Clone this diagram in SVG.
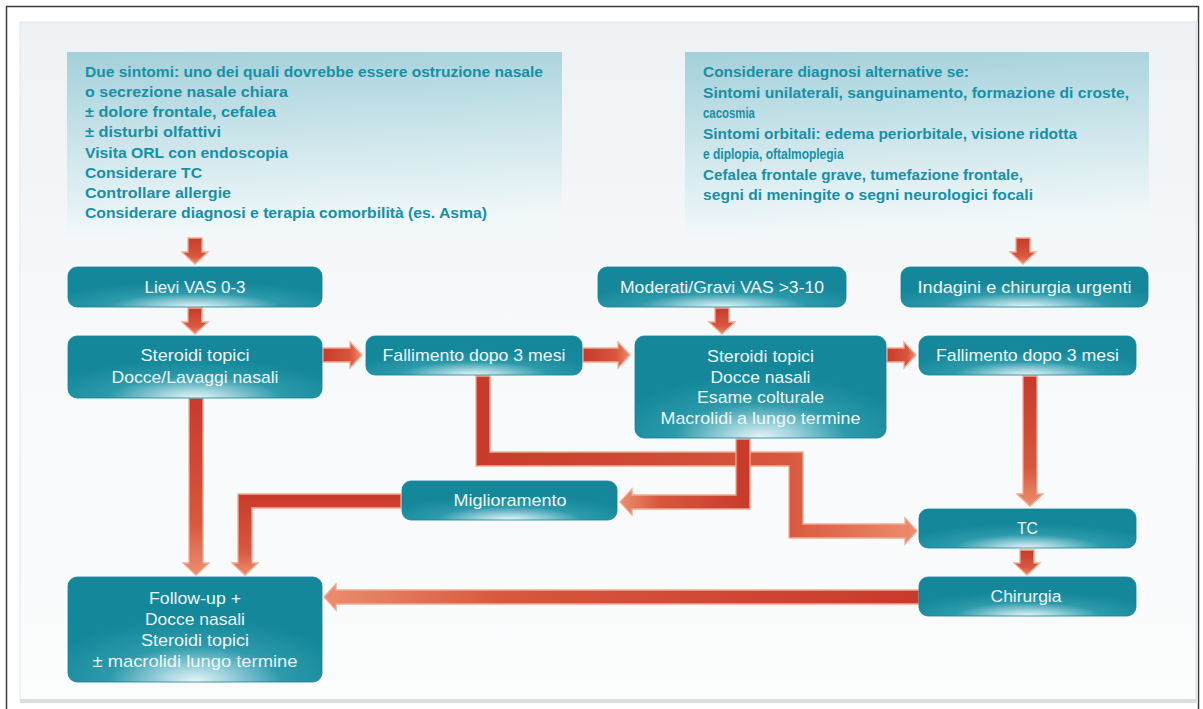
<svg xmlns="http://www.w3.org/2000/svg" width="1203" height="709" viewBox="0 0 1203 709">
<defs>
<linearGradient id="panelG" x1="0" y1="0" x2="0" y2="1">
<stop offset="0" stop-color="#eef2f5"/>
<stop offset="0.4" stop-color="#f6f8fa"/>
<stop offset="1" stop-color="#fcfdfd"/>
</linearGradient>
<linearGradient id="infoG" x1="0" y1="0" x2="0.12" y2="1">
<stop offset="0" stop-color="#a3d0da"/>
<stop offset="0.55" stop-color="#cfe7ec"/>
<stop offset="1" stop-color="#f2f8fa"/>
</linearGradient>
<radialGradient id="boxG" cx="0.5" cy="1" r="0.62" fx="0.5" fy="1">
<stop offset="0" stop-color="#e9f6f8"/>
<stop offset="0.22" stop-color="#9fd3dc"/>
<stop offset="0.55" stop-color="#2c9aab"/>
<stop offset="1" stop-color="#14879a"/>
</radialGradient>
<linearGradient id="gDown" x1="0" y1="0" x2="0" y2="1">
<stop offset="0" stop-color="#c83a2b"/>
<stop offset="0.7" stop-color="#d8573e"/>
<stop offset="1" stop-color="#ec8d6d"/>
</linearGradient>
<linearGradient id="gRight" x1="0" y1="0" x2="1" y2="0">
<stop offset="0" stop-color="#c83a2b"/>
<stop offset="0.7" stop-color="#d8573e"/>
<stop offset="1" stop-color="#ec8d6d"/>
</linearGradient>
<linearGradient id="gLeft" x1="1" y1="0" x2="0" y2="0">
<stop offset="0" stop-color="#c83a2b"/>
<stop offset="0.7" stop-color="#d8573e"/>
<stop offset="1" stop-color="#ec8d6d"/>
</linearGradient>
</defs>
<style>
.info{fill:url(#infoG);}
.it{font-family:"Liberation Sans",Arial,sans-serif;font-size:15px;font-weight:bold;fill:#1790a6;}
.box{fill:url(#boxG);stroke:#13839a;stroke-width:0.8;}
.bt{font-family:"Liberation Sans",Arial,sans-serif;font-size:17px;fill:#edf7f9;text-anchor:middle;}
.ar{stroke:#f2ab92;stroke-width:1.3;stroke-linejoin:miter;}
.d{fill:url(#gDown);}
.r{fill:url(#gRight);}
.l{fill:url(#gLeft);}
</style>

<rect x="6.5" y="6.5" width="1192" height="720" fill="#ffffff" stroke="#3a3a3a" stroke-width="1.5"/>
<rect x="20" y="22" width="1176" height="678" fill="url(#panelG)" stroke="#e2e6e9" stroke-width="1"/>
<rect x="20" y="699" width="1177" height="4" fill="#dadfe2"/>
<rect x="1196" y="22" width="2" height="681" fill="#e0e4e7"/>

<g id="connectors">
<polygon id="a1" class="ar d" points="188,238 202,238 202,252 208,252 195,264 182,252 188,252"/>
<polygon id="a2" class="ar d" points="188,308 202,308 202,322 208,322 195,334 182,322 188,322"/>
<polygon id="a3" class="ar r" points="323,348 350,348 350,342 362,355 350,368 350,362 323,362"/>
<polygon id="a4" class="ar r" points="583,348 618,348 618,342 630,355 618,368 618,362 583,362"/>
<polygon id="a5" class="ar d" points="715,308 729,308 729,322 735,322 722,334 709,322 715,322"/>
<polygon id="a6" class="ar r" points="887,348 904,348 904,342 916,355 904,368 904,362 887,362"/>
<polygon id="a7" class="ar d" points="1016,238 1030,238 1030,252 1036,252 1023,264 1010,252 1016,252"/>
<polygon id="a8" class="ar d" points="1023,376 1037,376 1037,494 1043,494 1030,506 1017,494 1023,494"/>
<polygon id="a9" class="ar d" points="1020,550 1034,550 1034,563 1040,563 1027,575 1014,563 1020,563"/>
<polygon id="a10" class="ar l" points="919,590 336,590 336,584 324,597 336,610 336,604 919,604"/>
<polygon id="a11" class="ar d" points="189,398 203,398 203,563 209,563 196,575 183,563 189,563"/>
<polygon id="a12" class="ar d" points="401,494 238,494 238,563 232,563 245,575 258,563 252,563 252,508 401,508"/>
<polygon id="a13" class="ar r" points="476,376 476,466 789,466 789,538 905,538 905,544 917,531 905,518 905,524 803,524 803,452 490,452 490,376"/>
<polygon id="a14" class="ar l" points="736,439 750,439 750,509 632,509 632,515 620,502 632,489 632,495 736,495"/>
</g>

<g id="info-left">
<rect class="info" x="67" y="52" width="495" height="183"/>
<text class="it" x="85" y="77" textLength="458" lengthAdjust="spacingAndGlyphs">Due sintomi: uno dei quali dovrebbe essere ostruzione nasale</text>
<text class="it" x="85" y="97" textLength="203" lengthAdjust="spacingAndGlyphs">o secrezione nasale chiara</text>
<text class="it" x="85" y="117" textLength="191" lengthAdjust="spacingAndGlyphs">± dolore frontale, cefalea</text>
<text class="it" x="85" y="137" textLength="136" lengthAdjust="spacingAndGlyphs">± disturbi olfattivi</text>
<text class="it" x="85" y="158" textLength="203" lengthAdjust="spacingAndGlyphs">Visita ORL con endoscopia</text>
<text class="it" x="85" y="178" textLength="117" lengthAdjust="spacingAndGlyphs">Considerare TC</text>
<text class="it" x="85" y="198" textLength="146" lengthAdjust="spacingAndGlyphs">Controllare allergie</text>
<text class="it" x="85" y="218" textLength="402" lengthAdjust="spacingAndGlyphs">Considerare diagnosi e terapia comorbilità (es. Asma)</text>
</g>

<g id="info-right">
<rect class="info" x="685" y="52" width="464" height="183"/>
<text class="it" x="703" y="77" textLength="266" lengthAdjust="spacingAndGlyphs">Considerare diagnosi alternative se:</text>
<text class="it" x="703" y="97.5" textLength="426" lengthAdjust="spacingAndGlyphs">Sintomi unilaterali, sanguinamento, formazione di croste,</text>
<text class="it" transform="translate(703 118) scale(0.76 1)">cacosmia</text>
<text class="it" x="703" y="138.5" textLength="374" lengthAdjust="spacingAndGlyphs">Sintomi orbitali: edema periorbitale, visione ridotta</text>
<text class="it" transform="translate(703 159) scale(0.8 1)">e diplopia, oftalmoplegia</text>
<text class="it" x="703" y="179.5" textLength="320" lengthAdjust="spacingAndGlyphs">Cefalea frontale grave, tumefazione frontale,</text>
<text class="it" x="703" y="200" textLength="330" lengthAdjust="spacingAndGlyphs">segni di meningite o segni neurologici focali</text>
</g>

<g id="lievi">
<rect class="box" x="68" y="267" width="254" height="40" rx="9"/>
<text class="bt" x="195" y="293" textLength="101" lengthAdjust="spacingAndGlyphs">Lievi VAS 0-3</text>
</g>
<g id="moderati">
<rect class="box" x="598" y="267" width="248" height="40" rx="9"/>
<text class="bt" x="722" y="293" textLength="204" lengthAdjust="spacingAndGlyphs">Moderati/Gravi VAS &gt;3-10</text>
</g>
<g id="indagini">
<rect class="box" x="901" y="267" width="247" height="40" rx="9"/>
<text class="bt" x="1024.5" y="293" textLength="214" lengthAdjust="spacingAndGlyphs">Indagini e chirurgia urgenti</text>
</g>
<g id="steroidi1">
<rect class="box" x="68" y="336" width="254" height="62" rx="9"/>
<text class="bt" x="195" y="361" textLength="109" lengthAdjust="spacingAndGlyphs">Steroidi topici</text>
<text class="bt" x="195" y="383" textLength="167" lengthAdjust="spacingAndGlyphs">Docce/Lavaggi nasali</text>
</g>
<g id="fallimento1">
<rect class="box" x="366" y="336" width="216" height="39" rx="9"/>
<text class="bt" x="474" y="361" textLength="183" lengthAdjust="spacingAndGlyphs">Fallimento dopo 3 mesi</text>
</g>
<g id="steroidi2">
<rect class="box" x="635" y="336" width="251" height="102" rx="9"/>
<text class="bt" x="760.5" y="362" textLength="107" lengthAdjust="spacingAndGlyphs">Steroidi topici</text>
<text class="bt" x="760.5" y="382.5" textLength="100" lengthAdjust="spacingAndGlyphs">Docce nasali</text>
<text class="bt" x="760.5" y="403" textLength="127" lengthAdjust="spacingAndGlyphs">Esame colturale</text>
<text class="bt" x="760.5" y="423.5" textLength="200" lengthAdjust="spacingAndGlyphs">Macrolidi a lungo termine</text>
</g>
<g id="fallimento2">
<rect class="box" x="919" y="336" width="217" height="39" rx="9"/>
<text class="bt" x="1027.5" y="361" textLength="183" lengthAdjust="spacingAndGlyphs">Fallimento dopo 3 mesi</text>
</g>
<g id="miglioramento">
<rect class="box" x="402" y="481" width="215" height="39" rx="9"/>
<text class="bt" x="510" y="506" textLength="113" lengthAdjust="spacingAndGlyphs">Miglioramento</text>
</g>
<g id="tc">
<rect class="box" x="919" y="509" width="217" height="39" rx="9"/>
<text class="bt" x="1027.5" y="534" textLength="21" lengthAdjust="spacingAndGlyphs">TC</text>
</g>
<g id="chirurgia">
<rect class="box" x="919" y="577" width="217" height="39" rx="9"/>
<text class="bt" x="1026" y="602" textLength="71" lengthAdjust="spacingAndGlyphs">Chirurgia</text>
</g>
<g id="followup">
<rect class="box" x="68" y="577" width="254" height="105" rx="9"/>
<text class="bt" x="195" y="604" textLength="92" lengthAdjust="spacingAndGlyphs">Follow-up +</text>
<text class="bt" x="195" y="625" textLength="100" lengthAdjust="spacingAndGlyphs">Docce nasali</text>
<text class="bt" x="195" y="646" textLength="108" lengthAdjust="spacingAndGlyphs">Steroidi topici</text>
<text class="bt" x="195" y="667" textLength="205" lengthAdjust="spacingAndGlyphs">± macrolidi lungo termine</text>
</g>
</svg>
